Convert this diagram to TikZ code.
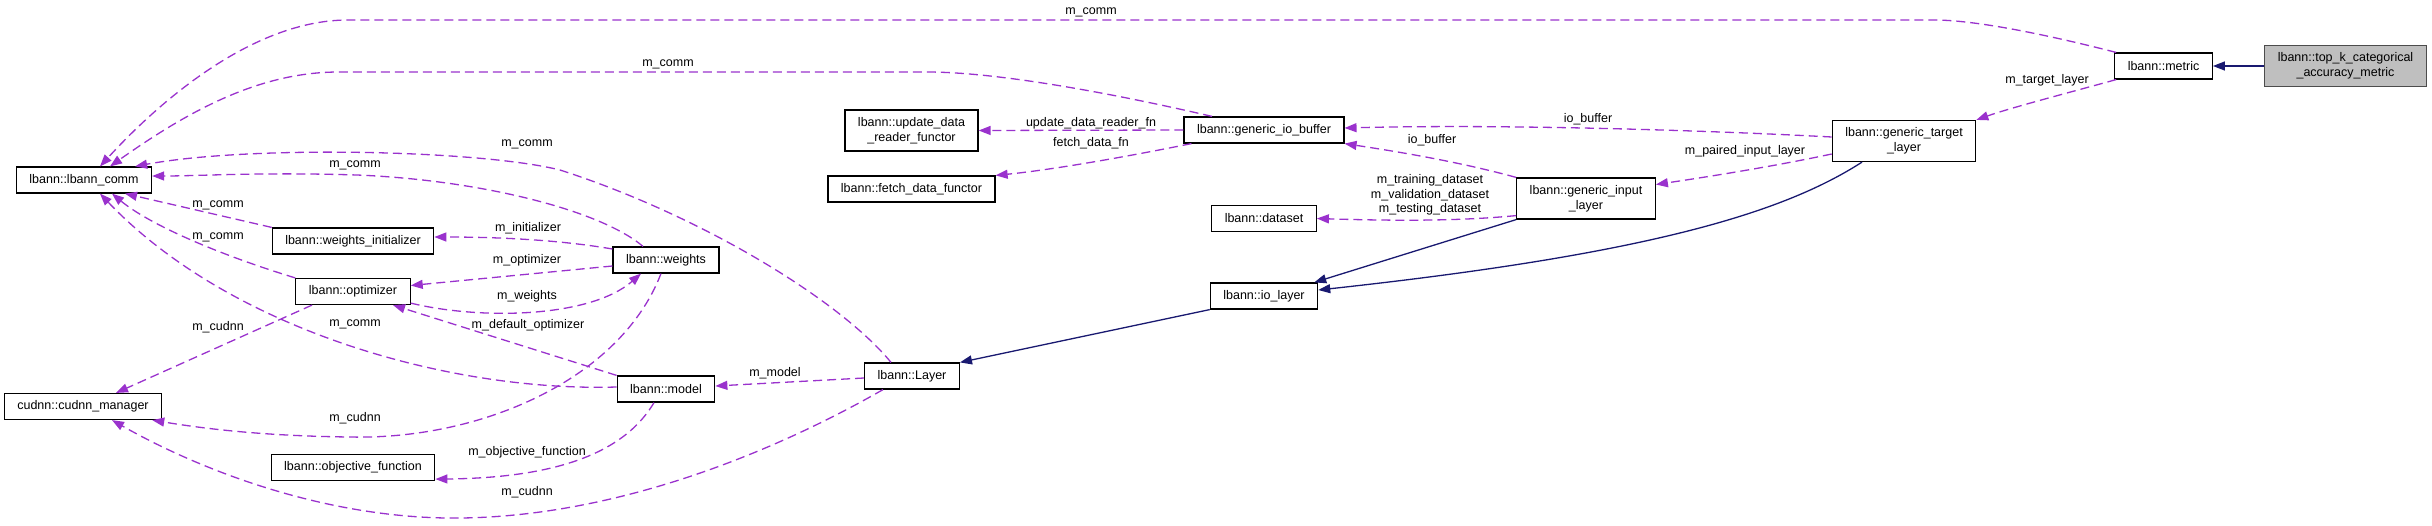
\documentclass[tikz,border=0pt]{standalone}
\usepackage{fontspec}
\setmainfont{Liberation Sans}
\usepackage{tikz}
\usetikzlibrary{arrows.meta}

\definecolor{usecol}{RGB}{154,50,205}
\definecolor{inhcol}{RGB}{25,25,112}
\definecolor{topgray}{RGB}{191,191,191}

\tikzset{
  cls/.style={draw=black, line width=1.2pt, fill=white, inner xsep=13pt, inner ysep=0pt,
    minimum height=26pt, align=center, font=\fontsize{12.5}{15}\selectfont},
  cls2/.style={cls, minimum height=41pt},
  dep/.style={draw=usecol, line width=1.3pt, dash pattern=on 9pt off 5pt,
    -{Triangle[length=12pt,width=9pt]}},
  inh/.style={draw=inhcol, line width=1.3pt, -{Triangle[length=12pt,width=9pt]}},
  lbl/.style={inner sep=0pt, align=center, font=\fontsize{12.5}{14.5}\selectfont},
}

\begin{document}
\begin{tikzpicture}[x=1pt,y=-1pt]
  \useasboundingbox (0,0) rectangle (2432,525);
  % classes
  \node[cls] (comm) at (84,180) {lbann::lbann\_comm};
  \node[cls] (cudnn) at (83,406.5) {cudnn::cudnn\_manager};
  \node[cls] (winit) at (353,241) {lbann::weights\_initializer};
  \node[cls] (optim) at (353,291.5) {lbann::optimizer};
  \node[cls] (objf) at (353,467.5) {lbann::objective\_function};
  \node[cls] (weights) at (666,260) {lbann::weights};
  \node[cls] (model) at (666,389) {lbann::model};
  \node[cls] (layer) at (912,376) {lbann::Layer};
  \node[cls2] (udrf) at (911.5,130.5) {lbann::update\_data\\\_reader\_functor};
  \node[cls] (fdf) at (911.5,189) {lbann::fetch\_data\_functor};
  \node[cls] (giob) at (1264,130) {lbann::generic\_io\_buffer};
  \node[cls] (dataset) at (1264,218.5) {lbann::dataset};
  \node[cls] (iolayer) at (1264,296) {lbann::io\_layer};
  \node[cls2] (ginput) at (1586,198.5) {lbann::generic\_input\\\_layer};
  \node[cls2] (gtarget) at (1904,141) {lbann::generic\_target\\\_layer};
  \node[cls] (metric) at (2163.5,66) {lbann::metric};
  \node[cls2, fill=topgray, draw=black!70] (topk) at (2345.5,66) {lbann::top\_k\_categorical\\\_accuracy\_metric};

  % uses (dashed)
  \draw[dep] ([xshift=2pt]metric.north west) .. controls (2060,38) and (1980,20) .. (1934,20)
    -- (348,20) .. controls (260,20) and (170,90) .. ([xshift=16pt]comm.north);
  \draw[dep] ([xshift=-52pt]giob.north) .. controls (1120,95) and (1000,72) .. (927,72)
    -- (339,72) .. controls (260,72) and (190,110) .. ([xshift=26pt]comm.north);
  \draw[dep] ([xshift=-21pt]layer.north) .. controls (840,300) and (700,215) .. (560,170)
    .. controls (480,150) and (250,145) .. ([xshift=-17pt]comm.north east);
  \draw[dep] ([xshift=-23pt]weights.north) .. controls (600,210) and (480,180) .. (357,175)
    .. controls (260,172) and (200,176) .. ([yshift=4pt]comm.east);
  \draw[dep] (winit.north west) -- ([xshift=41pt]comm.south);
  \draw[dep] (optim.north west) .. controls (220,255) and (150,225) .. ([xshift=28pt]comm.south);
  \draw[dep] ([yshift=2pt]model.west) .. controls (450,392) and (230,330) .. ([xshift=16pt]comm.south);
  \draw[dep] ([yshift=11pt]weights.west) .. controls (560,240) and (500,237) .. ([yshift=4pt]winit.east);
  \draw[dep] ([yshift=-6pt]weights.west) -- ([yshift=6pt]optim.east);
  \draw[dep] ([yshift=2pt]optim.south east) .. controls (480,320) and (590,318) .. ([xshift=-25pt]weights.south);
  \draw[dep] (model.north west) -- ([xshift=40pt]optim.south);
  \draw[dep] ([xshift=-41pt]optim.south) -- ([xshift=33pt]cudnn.north);
  \draw[dep] ([xshift=-5pt]weights.south) .. controls (620,380) and (480,440) .. (350,437)
    .. controls (260,436) and (200,428) .. ([xshift=-10pt]cudnn.south east);
  \draw[dep] ([xshift=-12pt]model.south) .. controls (620,460) and (540,478) .. ([yshift=2pt]objf.south east);
  \draw[dep] ([xshift=-29pt]layer.south) .. controls (760,460) and (600,520) .. (446,518)
    .. controls (320,516) and (200,470) .. ([xshift=29pt]cudnn.south);
  \draw[dep] ([yshift=-2pt]layer.west) -- ([yshift=3pt]model.east);
  \draw[dep] (giob.west) -- (udrf.east);
  \draw[dep] ([xshift=8pt]giob.south west) .. controls (1120,158) and (1050,170) .. (fdf.north east);
  \draw[dep] ([yshift=4pt]gtarget.west) .. controls (1700,130) and (1500,124) .. ([yshift=2pt]giob.east);
  \draw[dep] (ginput.north west) .. controls (1460,162) and (1400,152) .. (giob.south east);
  \draw[dep] ([yshift=4pt]ginput.south west) .. controls (1460,221) and (1400,221) .. (dataset.east);
  \draw[dep] ([yshift=-13pt]gtarget.west) .. controls (1780,165) and (1720,175) .. ([yshift=14pt]ginput.east);
  \draw[dep] ([xshift=2pt]metric.south west) .. controls (2060,95) and (2010,108) .. (gtarget.north east);

  % inheritance (solid)
  \draw[inh] (topk.west) -- (metric.east);
  \draw[inh] ([xshift=-42pt]gtarget.south) .. controls (1780,215) and (1640,255) .. ([yshift=6pt]iolayer.east);
  \draw[inh] (ginput.south west) -- ([xshift=-4pt]iolayer.north east);
  \draw[inh] (iolayer.south west) -- (layer.north east);

  % edge labels
  \node[lbl] (t1) at (1091,12) {m\_comm};
  \node[lbl] (t2) at (668,64) {m\_comm};
  \node[lbl] (t3) at (527,144) {m\_comm};
  \node[lbl] (t4) at (355,165) {m\_comm};
  \node[lbl] (t5) at (218,205) {m\_comm};
  \node[lbl] (t6) at (218,237) {m\_comm};
  \node[lbl] (t7) at (355,324) {m\_comm};
  \node[lbl] (t8) at (528,228) {m\_initializer};
  \node[lbl] (t9) at (527,260) {m\_optimizer};
  \node[lbl] (t10) at (527,296) {m\_weights};
  \node[lbl] (t11) at (528,325) {m\_default\_optimizer};
  \node[lbl] (t12) at (218,327) {m\_cudnn};
  \node[lbl] (t13) at (355,418) {m\_cudnn};
  \node[lbl] (t14) at (527,452) {m\_objective\_function};
  \node[lbl] (t15) at (527,492) {m\_cudnn};
  \node[lbl] (t16) at (775,373) {m\_model};
  \node[lbl] (t17) at (1091,123) {update\_data\_reader\_fn};
  \node[lbl] (t18) at (1091,143) {fetch\_data\_fn};
  \node[lbl] (t19) at (1588,119) {io\_buffer};
  \node[lbl] (t20) at (1432,140) {io\_buffer};
  \node[lbl] (t21) at (1430,195) {m\_training\_dataset\\m\_validation\_dataset\\m\_testing\_dataset};
  \node[lbl] (t22) at (1745,151) {m\_paired\_input\_layer};
  \node[lbl] (t23) at (2047,80) {m\_target\_layer};
\end{tikzpicture}
\end{document}
